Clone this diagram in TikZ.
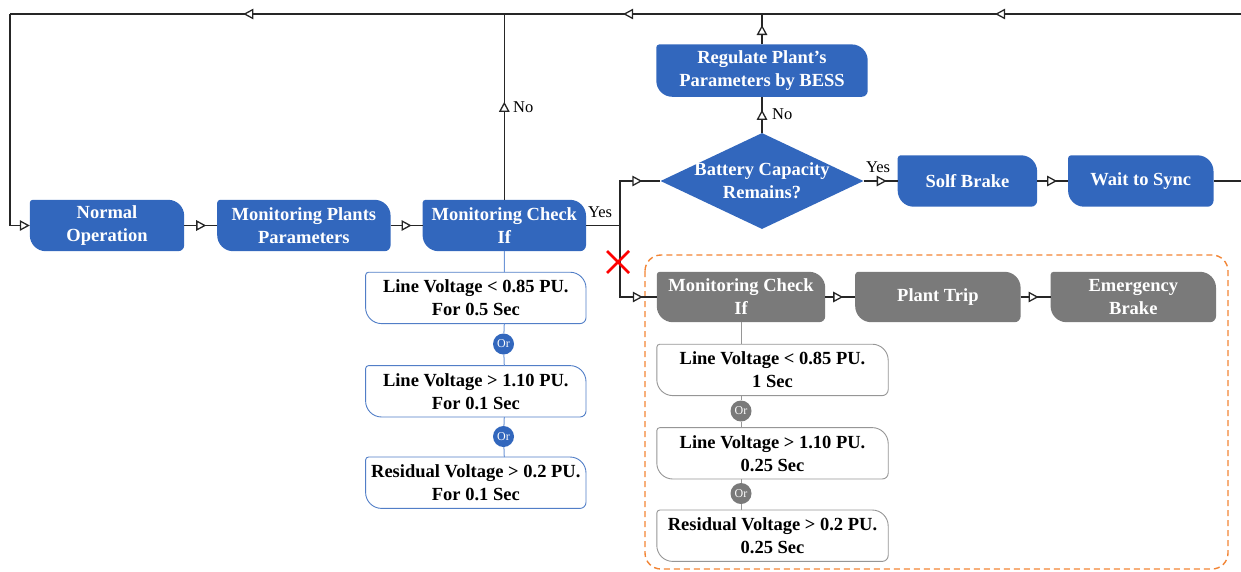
\documentclass[tikz,border=0pt]{standalone}
\usepackage{fontspec}
\setmainfont{Liberation Serif}
\usetikzlibrary{arrows.meta, positioning, shapes.geometric, decorations.markings, backgrounds}
\definecolor{flowblue}{RGB}{50,103,189}
\definecolor{flowgray}{RGB}{122,122,122}
\definecolor{edgegray}{RGB}{150,150,150}
\definecolor{dashorange}{RGB}{242,132,52}
\definecolor{lineblue}{RGB}{110,150,215}

\tikzset{tri/.tip={Triangle[fill=white, length=10pt, width=10.5pt]}}

% leaf shaped box behind a node: small round at NW/SE, big round at NE/SW
\newcommand{\leaf}[2]{%
  \path[#2] ([xshift=3pt]#1.north west) -- ([xshift=-16pt]#1.north east)
    arc[start angle=90, end angle=0, radius=16pt] -- ([yshift=6pt]#1.south east)
    arc[start angle=0, end angle=-90, radius=6pt] -- ([xshift=16pt]#1.south west)
    arc[start angle=270, end angle=180, radius=16pt] -- ([yshift=-3pt]#1.north west)
    arc[start angle=180, end angle=90, radius=3pt] -- cycle;}

\begin{document}
\begin{tikzpicture}[x=1pt, y=1pt,
  node distance=31pt,
  box/.style={rectangle, inner sep=0pt, minimum width=#1, minimum height=51pt,
              align=center, text=white, font=\fontsize{18.5}{23}\selectfont\bfseries},
  cond/.style={rectangle, inner sep=0pt, minimum width=#1, minimum height=51pt,
               align=center, font=\fontsize{18.5}{23}\selectfont\bfseries},
  orb/.style={circle, fill=#1, text=white, inner sep=0pt, minimum size=21pt,
              font=\fontsize{12}{12}\selectfont},
  lbl/.style={inner sep=1pt, font=\fontsize{16.5}{18}\selectfont},
  line/.style={draw=black!85, line width=1.3pt},
  flow/.style={line, postaction={decorate},
               decoration={markings, mark=at position #1 with {\arrow{tri}}}},
  flow/.default=-11pt
]
\useasboundingbox (0,0) rectangle (1241,-571);

% main row
\node[box=154pt] (norm) at (107,-225.5) {Normal\\Operation};
\node[box=173pt, right=33pt of norm]  (plants) {Monitoring Plants\\Parameters};
\node[box=163pt, right=32pt of plants] (chkA)  {Monitoring Check\\If};

% conditions under the first check
\node[cond=220pt, below left=21pt and 0pt of chkA.south east] (c1A) {Line Voltage < 0.85 PU.\\For 0.5 Sec};
\node[cond=220pt, below=42pt of c1A] (c2A) {Line Voltage > 1.10 PU.\\For 0.1 Sec};
\node[cond=220pt, below=40pt of c2A] (c3A) {Residual Voltage > 0.2 PU.\\For 0.1 Sec};
\node[orb=flowblue] (orA1) at (503.5,-344) {Or};
\node[orb=flowblue] (orA2) at (503.5,-436.5) {Or};

% battery branch
\node[shape=diamond, fill=flowblue, inner sep=-20pt, minimum width=203pt, minimum height=96pt,
      align=center, text=white, font=\fontsize{18.5}{23}\selectfont\bfseries]
      (dia) at (762,-181) {Battery Capacity\\Remains?};
\node[box=211pt, minimum height=52pt, above=36pt of dia] (regB) {Regulate Plant’s\\Parameters by BESS};
\node[box=139pt, right=34pt of dia]  (solf) {Solf Brake};
\node[box=145pt, right=31pt of solf] (wait) {Wait to Sync};

% trip branch
\node[box=168pt, minimum height=50pt] (chkB) at (741,-297) {Monitoring Check\\If};
\node[box=165pt, minimum height=50pt, right=30pt of chkB] (trip) {Plant Trip};
\node[box=165pt, minimum height=50pt, right=30pt of trip] (emg)  {Emergency\\Brake};
\node[cond=231pt, below right=22pt and 0pt of chkB.south west] (c1B) {Line Voltage < 0.85 PU.\\1 Sec};
\node[cond=231pt, below=32pt of c1B] (c2B) {Line Voltage > 1.10 PU.\\0.25 Sec};
\node[cond=231pt, below=31pt of c2B] (c3B) {Residual Voltage > 0.2 PU.\\0.25 Sec};
\node[orb=flowgray] (orB1) at (741,-411) {Or};
\node[orb=flowgray] (orB2) at (741,-493.5) {Or};

% labels
\node[lbl, anchor=west] (noA)  at (512,-107) {No};
\node[lbl]              (yesA) at (600,-212) {Yes};
\node[lbl, anchor=west] (noB)  at (771,-114) {No};
\node[lbl]              (yesB) at (878,-167) {Yes};

% loop corners
\coordinate (tr) at (1260,-14);
\coordinate (tj) at (regB |- tr);
\coordinate (tk) at (chkA |- tr);
\coordinate (tl) at (10,-14);
\coordinate (br) at (620,-225.5);
\coordinate (xmark) at (618,-262);

\draw[line] (wait.east) -- (wait.east -| tr) -- (tr);
\draw[flow=0.532] (tr) -- (tj);
\draw[flow=0.539] (tj) -- (tk);
\draw[flow=0.528] (tk) -- (tl);
\draw[line, -tri] (tl) |- (norm.west);
\draw[flow] (norm) -- (plants);
\draw[flow] (plants) -- (chkA);
\draw[flow=98pt] (chkA) -- (tk);
\draw[line] (chkA) -- (br);
\draw[flow=-18pt] (br) |- (dia);
\draw[flow=-14pt] (br) |- (chkB);
\draw[flow=-13pt] (dia) -- (regB);
\draw[flow] (regB) -- (tj);
\draw[flow] (dia) -- (solf);
\draw[flow] (solf) -- (wait);
\draw[flow=-12pt] (chkB) -- (trip);
\draw[flow=-12pt] (trip) -- (emg);

% or-chains
\draw[lineblue, line width=1pt] (chkA.south) -- (chkA.south |- c1A.north)
  (chkA |- c1A.south) -- (orA1) -- (chkA |- c2A.north)
  (chkA |- c2A.south) -- (orA2) -- (chkA |- c3A.north);
\draw[edgegray, line width=1pt] (chkB.south) -- (chkB.south |- c1B.north)
  (chkB |- c1B.south) -- (orB1) -- (chkB |- c2B.north)
  (chkB |- c2B.south) -- (orB2) -- (chkB |- c3B.north);

% blocked path
\draw[red, line width=2.6pt] ([shift={(-11,11)}]xmark) -- ([shift={(11,-11)}]xmark)
  ([shift={(-11,-11)}]xmark) -- ([shift={(11,11)}]xmark);

\begin{scope}[on background layer]
  \draw[dashorange, line width=1.4pt, dash pattern=on 6pt off 4pt, rounded corners=16pt]
    (645,-255) rectangle (1228,-569);
  \foreach \n in {norm,plants,chkA,regB,solf,wait} {\leaf{\n}{fill=flowblue}}
  \foreach \n in {chkB,trip,emg} {\leaf{\n}{fill=flowgray}}
  \foreach \n in {c1A,c2A,c3A} {\leaf{\n}{fill=white, draw=flowblue!85, line width=0.9pt}}
  \foreach \n in {c1B,c2B,c3B} {\leaf{\n}{fill=white, draw=edgegray, line width=0.9pt}}
\end{scope}

\end{tikzpicture}
\end{document}
